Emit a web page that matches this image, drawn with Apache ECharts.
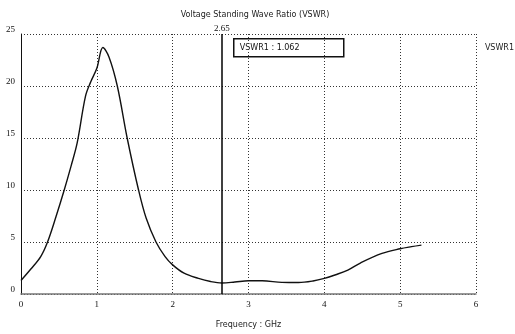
<!DOCTYPE html>
<html>
<head>
<meta charset="utf-8">
<script src="https://cdn.jsdelivr.net/npm/echarts@6/dist/echarts.min.js"></script>
<style>
  html, body { margin: 0; padding: 0; background: #fff; }
  #chart { width: 515px; height: 334px; }
</style>
</head>
<body>
<div id="chart"></div>
<script>
// frequency (GHz) and VSWR
const freq = [0, 0.13, 0.26, 0.35, 0.46, 0.57, 0.66, 0.74, 0.85, 0.92, 1.0, 1.08, 1.16, 1.27, 1.4, 1.55, 1.65, 1.78, 1.9, 2.0, 2.15, 2.34, 2.5, 2.65, 2.82, 3.0, 3.18, 3.44, 3.66, 3.85, 4.0, 4.15, 4.31, 4.48, 4.76, 5.0, 5.15, 5.28];
const vswr = [1.3, 2.4, 3.6, 5.0, 7.4, 10.0, 12.3, 14.5, 19.0, 20.4, 21.7, 23.7, 22.8, 20.0, 15.0, 10.0, 7.3, 5.0, 3.6, 2.8, 2.0, 1.5, 1.2, 1.06, 1.15, 1.27, 1.27, 1.12, 1.1, 1.25, 1.5, 1.85, 2.3, 3.0, 3.9, 4.35, 4.55, 4.7];
const markerFreq = 2.65;
const markerText = "VSWR1 : 1.062";
const xTicks = [0, 6, 1];
const yTicks = [0, 25, 5];

const chart = echarts.init(document.getElementById("chart"));
const serif = "Liberation Serif";
const dotted = { color: "#333", type: [1, 2], width: 1 };

chart.setOption({
  animation: false,
  backgroundColor: "#fff",
  title: {
    text: "Voltage Standing Wave Ratio (VSWR)",
    left: 250, top: 6, textAlign: "center",
    textStyle: { fontFamily: "DejaVu Sans", fontSize: 8, fontWeight: "normal", color: "#222" },
  },
  legend: {
    right: -4, top: 36, icon: "none", itemWidth: 0, itemGap: 0,
    textStyle: { fontFamily: "DejaVu Sans", fontSize: 8, color: "#222" },
    data: ["VSWR1"],
  },
  grid: { left: 21, right: 39, top: 34, bottom: 40 },
  xAxis: {
    type: "value",
    min: xTicks[0], max: xTicks[1], interval: xTicks[2],
    name: "Frequency : GHz", nameLocation: "middle", nameGap: 27,
    nameTextStyle: { fontFamily: "DejaVu Sans", fontSize: 8, color: "#222" },
    axisLine: { show: true, lineStyle: { color: "#777", width: 1.5 } },
    axisTick: { show: false },
    axisLabel: { fontFamily: serif, fontSize: 9, color: "#111", margin: 6 },
    splitLine: { show: true, lineStyle: dotted },
  },
  yAxis: {
    type: "value",
    min: yTicks[0], max: yTicks[1], interval: yTicks[2],
    axisLine: { show: true, lineStyle: { color: "#111", width: 1 } },
    axisTick: { show: false },
    axisLabel: { fontFamily: serif, fontSize: 9, color: "#111", margin: 6, verticalAlign: "bottom" },
    splitLine: { show: true, lineStyle: dotted },
  },
  series: [{
    name: "VSWR1",
    type: "line",
    smooth: 0.35,
    symbol: "none",
    data: freq.map((f, i) => [f, vswr[i]]),
    lineStyle: { color: "#111", width: 1.4 },
    itemStyle: { color: "#111" },
    markLine: {
      silent: true, symbol: "none",
      lineStyle: { color: "#000", type: "solid", width: 1.5 },
      label: { position: "end", formatter: String(markerFreq), fontFamily: serif, fontSize: 9, color: "#111", distance: 1 },
      data: [{ xAxis: markerFreq }],
    },
  }],
  graphic: [{
    type: "group", left: 233, top: 38,
    children: [
      { type: "rect", shape: { x: 0, y: 0, width: 110, height: 18 }, style: { fill: "#fff", stroke: "#111", lineWidth: 1.5 } },
      { type: "text", x: 6, y: 9, style: { text: markerText, fontFamily: "DejaVu Sans", fontSize: 8, fill: "#111", verticalAlign: "middle" } },
    ],
  }],
});
</script>
</body>
</html>
